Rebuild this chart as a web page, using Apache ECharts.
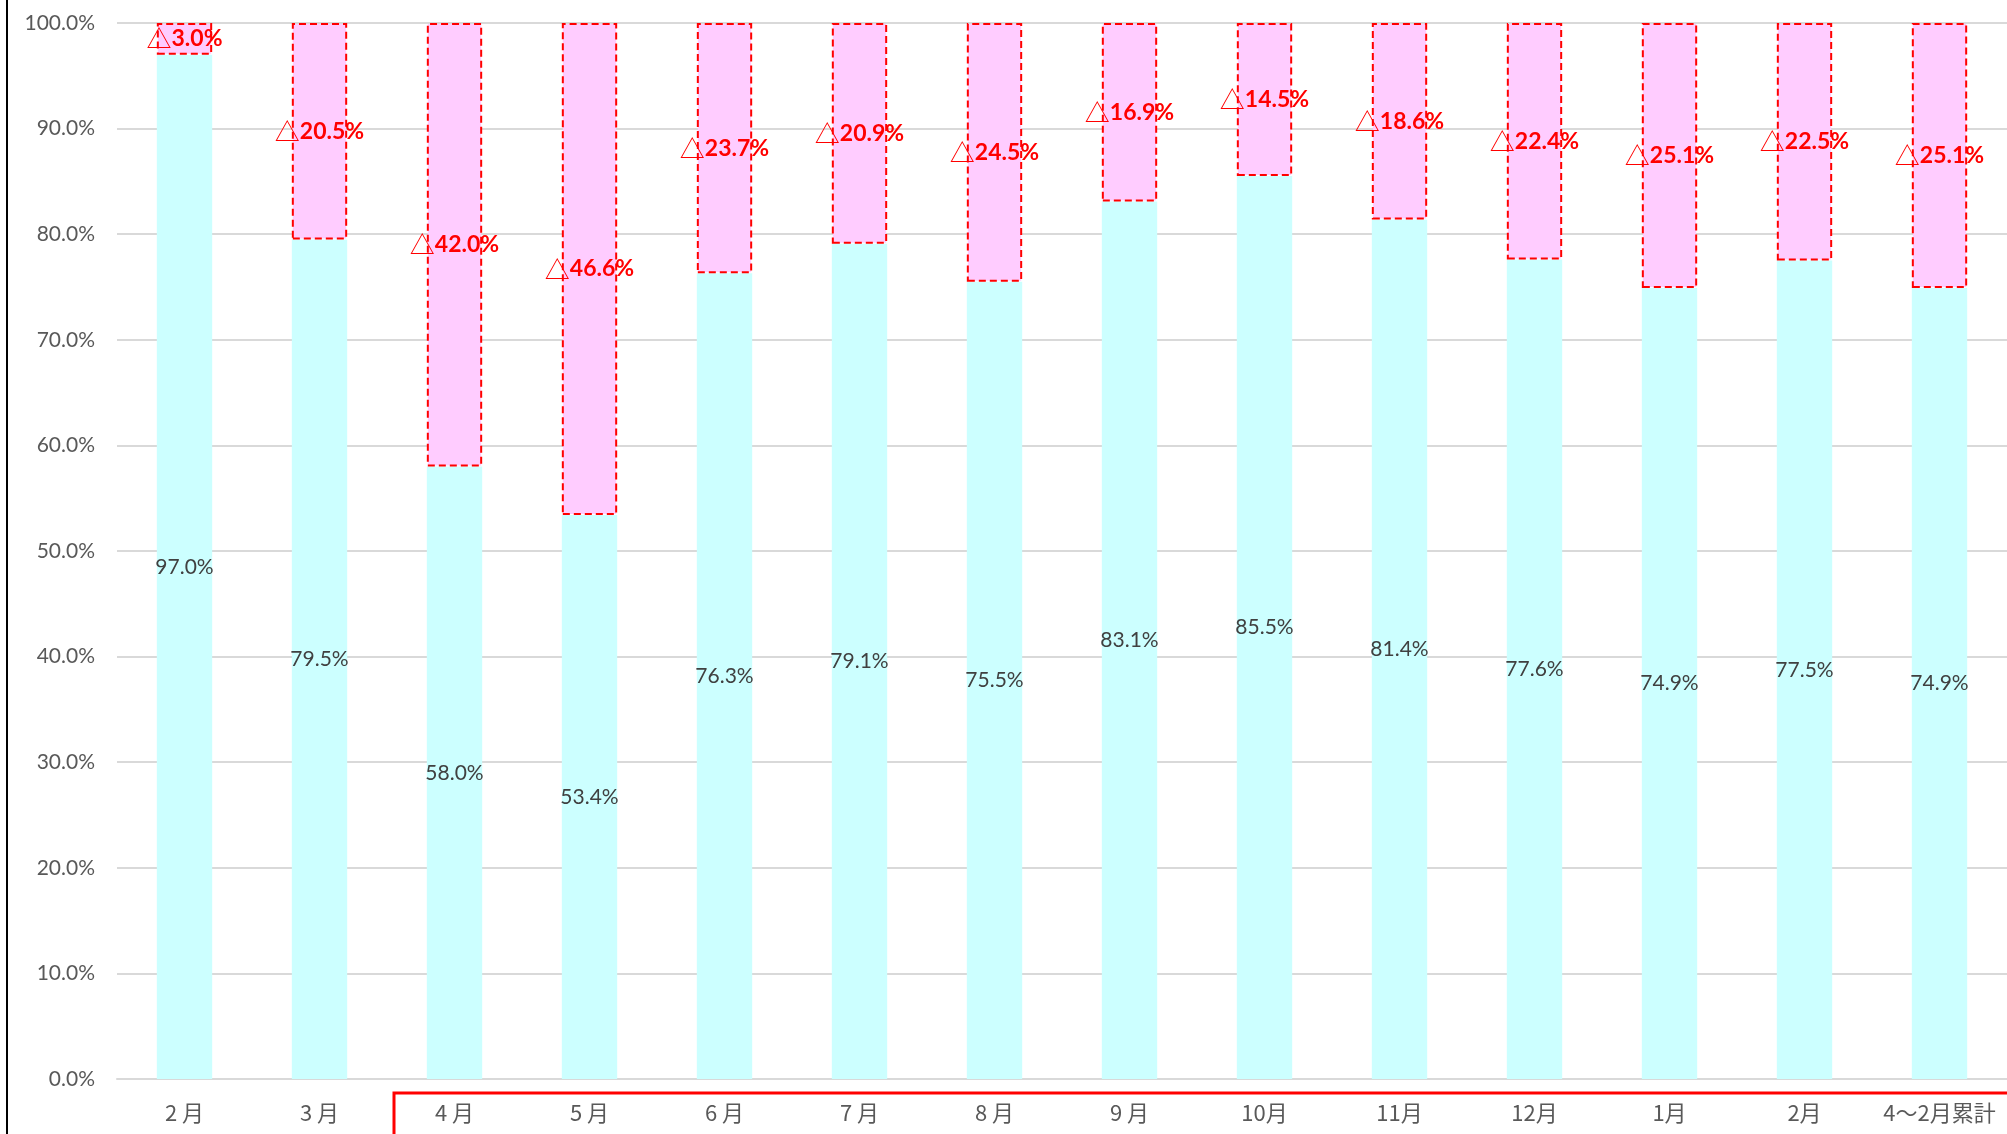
<!DOCTYPE html>
<html>
<head>
<meta charset="utf-8">
<script src="https://cdn.jsdelivr.net/npm/echarts@6/dist/echarts.min.js"></script>
<style>
  html, body { margin: 0; padding: 0; background: #fff; }
  #chart { width: 2007px; height: 1134px; }
</style>
</head>
<body>
<div id="chart"></div>
<script>
// Month categories (single-digit months carry a half-width space)
const categories = ['2 月', '3 月', '4 月', '5 月', '6 月', '7 月', '8 月', '9 月',
  '10月', '11月', '12月', '1月', '2月', '4〜2月累計'];
// Share retained (%)
const retained = [97.0, 79.5, 58.0, 53.4, 76.3, 79.1, 75.5, 83.1, 85.5, 81.4, 77.6, 74.9, 77.5, 74.9];
// Decrease (%), shown with a triangle mark
const decrease = [3.0, 20.5, 42.0, 46.6, 23.7, 20.9, 24.5, 16.9, 14.5, 18.6, 22.4, 25.1, 22.5, 25.1];
// Y-axis ticks
const yMin = 0, yMax = 100, yStep = 10;

const latin = 'Lato, "Noto Sans", sans-serif';
const cjk = '"Noto Sans CJK JP", sans-serif';

const chart = echarts.init(document.getElementById('chart'));
chart.setOption({
  animation: false,
  backgroundColor: '#ffffff',
  grid: { left: 117, right: 0, top: 23, bottom: 55, containLabel: false },
  xAxis: {
    type: 'category',
    data: categories,
    axisLine: { show: true, lineStyle: { color: '#d9d9d9', width: 2 } },
    axisTick: { show: false },
    axisLabel: {
      interval: 0, hideOverlap: false,
      color: '#595959', fontFamily: cjk, fontSize: 22, margin: 23
    }
  },
  yAxis: {
    type: 'value',
    min: yMin, max: yMax, interval: yStep,
    axisLine: { show: false },
    axisTick: { show: false },
    splitLine: { lineStyle: { color: '#d9d9d9', width: 2 } },
    axisLabel: {
      color: '#595959', fontFamily: latin, fontSize: 21, margin: 22,
      formatter: v => v.toFixed(1) + '%'
    }
  },
  series: [
    {
      name: 'retained',
      type: 'bar',
      stack: 'total',
      barWidth: '41%',
      data: retained,
      itemStyle: { color: '#CCFFFF' },
      label: {
        show: true, position: 'inside',
        color: '#404040', fontFamily: latin, fontSize: 21,
        formatter: p => p.value.toFixed(1) + '%'
      }
    },
    {
      name: 'decrease',
      type: 'bar',
      stack: 'total',
      barWidth: '41%',
      data: decrease,
      itemStyle: {
        color: '#FFCCFF',
        borderColor: '#FF0000',
        borderWidth: 2,
        borderType: [7, 4]
      },
      label: {
        show: true, position: 'inside',
        formatter: p => '{t|△}{v|' + p.value.toFixed(1) + '%}',
        rich: {
          t: { color: '#FF0000', fontFamily: cjk, fontSize: 25, fontWeight: 'normal' },
          v: { color: '#FF0000', fontFamily: latin, fontSize: 23, fontWeight: 'bold' }
        }
      }
    }
  ]
});

// Frame line on the left and the bracket under the current fiscal months
const xA = chart.convertToPixel({ xAxisIndex: 0 }, 1);
const xB = chart.convertToPixel({ xAxisIndex: 0 }, 2);
const boxLeft = Math.round((xA + xB) / 2) + 7;
chart.setOption({
  graphic: [
    {
      type: 'line',
      shape: { x1: 7, y1: 0, x2: 7, y2: 1134 },
      style: { stroke: '#000000', lineWidth: 2 }
    },
    {
      type: 'rect',
      shape: { x: boxLeft, y: 1093, width: 2007 - boxLeft + 10, height: 60 },
      style: { fill: 'none', stroke: '#FF0000', lineWidth: 3 }
    }
  ]
});
</script>
</body>
</html>
